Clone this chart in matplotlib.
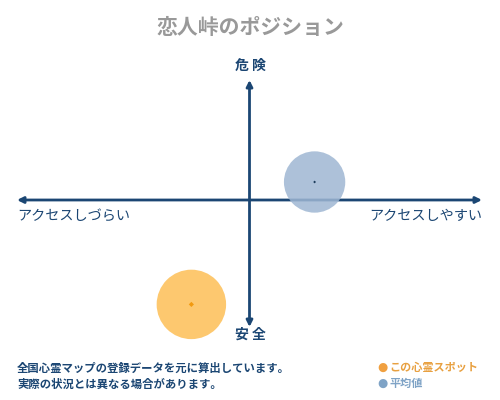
import matplotlib.pyplot as plt

plt.rcParams['font.family'] = ['Noto Sans CJK JP', 'DejaVu Sans']

# position data (x: access, y: danger), scale -10..10
labels = ['この心霊スポット', '平均値']
xs = [-2.5, 2.8]
ys = [-8.7, 1.5]
colors = ['#fdbf56', '#9fb7d3']
dot_colors = ['#f29a10', '#1a3a5a']
dot_sizes = [7, 2]
sizes = [2500, 1950]

axis_color = '#1b4673'

fig = plt.figure(figsize=(5, 4), dpi=100)
fig.patch.set_facecolor('white')

# axes covers the quadrant area, in pixels 17..482 x 80..327
ax = fig.add_axes([17 / 500, (400 - 327) / 400, 465 / 500, 247 / 400])
ax.set_xlim(-10, 10)
ax.set_ylim(-127 / 12, 10)
ax.axis('off')

arrow = dict(arrowstyle='<|-|>', color=axis_color, lw=2, mutation_scale=9,
             shrinkA=0, shrinkB=0)
ax.annotate('', xy=(-10, 0), xytext=(10, 0), arrowprops=arrow)
ax.annotate('', xy=(0, -127 / 12), xytext=(0, 10), arrowprops=arrow)

for x, y, c, d, s, ds in zip(xs, ys, colors, dot_colors, sizes, dot_sizes):
    ax.scatter(x, y, s=s, color=c, alpha=0.85, edgecolors='none', zorder=3,
               clip_on=False)
    ax.scatter(x, y, s=ds, color=d, marker='D', zorder=4, clip_on=False,
               edgecolors='none')

fig.text(0.5, 1 - 28 / 400, '恋人峠のポジション', ha='center', va='center',
         fontsize=15, color='#999999', fontweight='bold')
fig.text(0.5, 1 - 66 / 400, '危 険', ha='center', va='center',
         fontsize=10, color=axis_color, fontweight='bold')
fig.text(0.5, 1 - 335 / 400, '安 全', ha='center', va='center',
         fontsize=10, color=axis_color, fontweight='bold')
fig.text(17 / 500, 1 - 216 / 400, 'アクセスしづらい', ha='left', va='center',
         fontsize=10.2, color=axis_color)
fig.text(482 / 500, 1 - 216 / 400, 'アクセスしやすい', ha='right', va='center',
         fontsize=10.2, color=axis_color)

fig.text(17 / 500, 1 - 368 / 400, '全国心霊マップの登録データを元に算出しています。',
         ha='left', va='center', fontsize=8.2, color=axis_color, fontweight='bold')
fig.text(17 / 500, 1 - 384 / 400, '実際の状況とは異なる場合があります。',
         ha='left', va='center', fontsize=8.2, color=axis_color, fontweight='bold')

# legend
leg_colors = ['#f0a040', '#7fa3c6']
leg_text = ['#e8a040', '#7fa3c6']
for i, (lab, c, t) in enumerate(zip(labels, leg_colors, leg_text)):
    yy = 1 - (367 + 16 * i) / 400
    fig.text(377 / 500, yy, '●', ha='left', va='center', fontsize=8.5,
             color=c, family='DejaVu Sans')
    fig.text(389 / 500, yy, lab, ha='left', va='center', fontsize=8,
             color=t, fontweight='bold')

fig.savefig('out.png', dpi=100, facecolor='white')
